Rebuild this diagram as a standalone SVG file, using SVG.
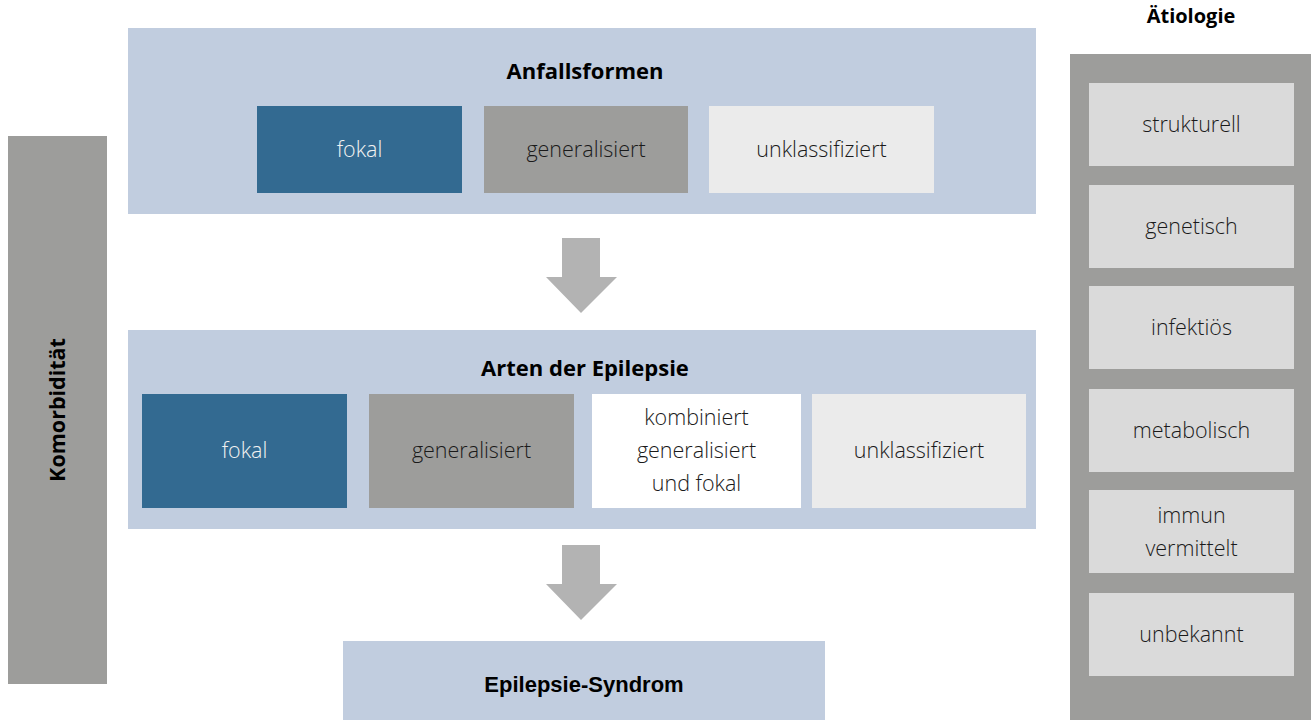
<svg xmlns="http://www.w3.org/2000/svg" width="1311" height="720" viewBox="0 0 1311 720">
<style>
.bg{fill:#ffffff}
.cont{fill:#c1cddf}
.fokal{fill:#336a91}
.gen{fill:#9d9d9b}
.unk{fill:#ebebeb}
.kom{fill:#ffffff}
.bar{fill:#9d9d9b}
.ibox{fill:#dadada}
.arrow{fill:#b3b3b3}
.title{font-family:"Open Sans","Liberation Sans",sans-serif;font-weight:700;font-size:22px;fill:#000;text-anchor:middle}
.arial{font-family:"Liberation Sans",Arial,sans-serif;font-weight:700;font-size:22px;fill:#000;text-anchor:middle}
.lbl{font-family:"Open Sans","Liberation Sans",sans-serif;font-weight:300;font-size:21.5px;fill:#1a1a1a;text-anchor:middle}
.lblw{font-family:"Open Sans","Liberation Sans",sans-serif;font-weight:300;font-size:21.5px;fill:#f2f2f2;text-anchor:middle}
</style>
<rect class="bg" x="0" y="0" width="1311" height="720"/>

<g id="komorbiditaet">
<rect class="bar" x="8" y="136" width="99" height="548"/>
<text class="title" style="font-size:21.5px" transform="translate(65,410) rotate(-90)">Komorbidität</text>
</g>

<g id="anfallsformen">
<rect class="cont" x="128" y="28" width="908" height="186"/>
<text class="title" x="585" y="79">Anfallsformen</text>
</g>
<g id="anfall-fokal">
<rect class="fokal" x="257" y="106" width="205" height="87"/>
<text class="lblw" x="359.5" y="157">fokal</text>
</g>
<g id="anfall-generalisiert">
<rect class="gen" x="484" y="106" width="204" height="87"/>
<text class="lbl" x="586" y="157">generalisiert</text>
</g>
<g id="anfall-unklassifiziert">
<rect class="unk" x="709" y="106" width="225" height="87"/>
<text class="lbl" x="821.5" y="157">unklassifiziert</text>
</g>

<g id="arten">
<rect class="cont" x="128" y="330" width="908" height="199"/>
<text class="title" x="585" y="376">Arten der Epilepsie</text>
</g>
<g id="arten-fokal">
<rect class="fokal" x="142" y="394" width="205" height="114"/>
<text class="lblw" x="244.5" y="458">fokal</text>
</g>
<g id="arten-generalisiert">
<rect class="gen" x="369" y="394" width="205" height="114"/>
<text class="lbl" x="471.5" y="458">generalisiert</text>
</g>
<g id="arten-kombiniert">
<rect class="kom" x="592" y="394" width="209" height="114"/>
<text class="lbl" x="696.5" y="425">kombiniert</text>
<text class="lbl" x="696.5" y="458">generalisiert</text>
<text class="lbl" x="696.5" y="491">und fokal</text>
</g>
<g id="arten-unklassifiziert">
<rect class="unk" x="812" y="394" width="214" height="114"/>
<text class="lbl" x="919" y="458">unklassifiziert</text>
</g>

<g id="syndrom">
<rect class="cont" x="343" y="641" width="482" height="79"/>
<text class="arial" x="584" y="692">Epilepsie-Syndrom</text>
</g>

<g id="aetiologie">
<text class="title" style="font-size:20px" x="1191" y="23">Ätiologie</text>
<rect class="bar" x="1070" y="54" width="241" height="666"/>
</g>
<g id="strukturell">
<rect class="ibox" x="1089" y="83" width="205" height="83"/>
<text class="lbl" x="1191.5" y="132">strukturell</text>
</g>
<g id="genetisch">
<rect class="ibox" x="1089" y="185" width="205" height="83"/>
<text class="lbl" x="1191.5" y="234">genetisch</text>
</g>
<g id="infektioes">
<rect class="ibox" x="1089" y="286" width="205" height="83"/>
<text class="lbl" x="1191.5" y="335">infektiös</text>
</g>
<g id="metabolisch">
<rect class="ibox" x="1089" y="389" width="205" height="83"/>
<text class="lbl" x="1191.5" y="438">metabolisch</text>
</g>
<g id="immun">
<rect class="ibox" x="1089" y="490" width="205" height="83"/>
<text class="lbl" x="1191.5" y="523">immun</text>
<text class="lbl" x="1191.5" y="556">vermittelt</text>
</g>
<g id="unbekannt">
<rect class="ibox" x="1089" y="593" width="205" height="83"/>
<text class="lbl" x="1191.5" y="642">unbekannt</text>
</g>

<g id="connectors">
<polygon class="arrow" points="562,238 600,238 600,277 617,277 581,313 546,277 562,277"/>
<polygon class="arrow" points="562,545 600,545 600,584 617,584 581,620 546,584 562,584"/>
</g>
</svg>
